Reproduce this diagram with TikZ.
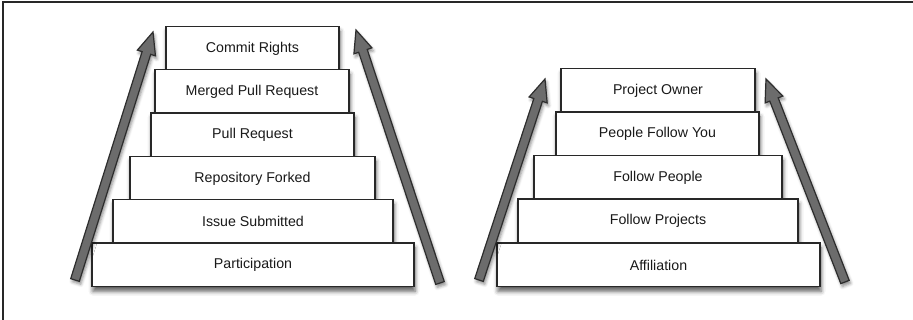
\documentclass[tikz,border=0pt]{standalone}
\usepackage{fontspec}
\setmainfont{Liberation Sans}
\usetikzlibrary{calc,shadows.blur}
\definecolor{boxline}{RGB}{40,40,40}
\definecolor{arrowfill}{RGB}{108,108,108}
\definecolor{arrowline}{RGB}{45,45,45}
\definecolor{framecol}{RGB}{40,40,40}
\definecolor{textcol}{RGB}{25,25,25}
\newcommand{\risearrow}[2]{%
  \coordinate (#1n) at ($(#2)!22pt!(#1)$);
  \path[arrowshape]
    ($(#1)!4.5pt!90:(#2)$) -- ($(#1n)!4.5pt!90:(#2)$) -- ($(#1n)!9.5pt!90:(#2)$) -- (#2)
    -- ($(#1n)!9.5pt!-90:(#2)$) -- ($(#1n)!4.5pt!-90:(#2)$) -- ($(#1)!4.5pt!-90:(#2)$) -- cycle;}
\begin{document}
\begin{tikzpicture}[x=1pt,y=-1pt,
  stepbox/.style={draw=boxline, line width=1.5pt, fill=white, inner sep=0pt, text=textcol,
    minimum height=43.5pt, font=\fontsize{14.2}{17}\selectfont,
    blur shadow={shadow xshift=1pt, shadow yshift=-4.5pt, shadow blur radius=4.5pt, shadow opacity=65}},
  arrowshape/.style={fill=arrowfill, draw=arrowline, line width=1.2pt, line join=miter,
    blur shadow={shadow xshift=1.5pt, shadow yshift=-3pt, shadow blur radius=3pt, shadow opacity=45}}]
\useasboundingbox (0,0) rectangle (913,320);
\draw[framecol, line width=1.5pt] (3,321) -- (3,2) -- (914,2);

% left staircase (top first so lower boxes cover shadows)
\node[stepbox, minimum width=173pt] (commit) at (252.5,48.5) {Commit Rights};
\node[stepbox, minimum width=194pt] (merged) at (252,91.5) {Merged Pull Request};
\node[stepbox, minimum width=203pt] (pull) at (252.5,135) {Pull Request};
\node[stepbox, minimum width=245pt] (repo) at (252.5,178.5) {Repository Forked};
\node[stepbox, minimum width=280pt] (issue) at (253,221.5) {Issue Submitted};
\node[stepbox, minimum width=322pt] (particip) at (253,265) {Participation};

% right staircase
\node[stepbox, minimum width=194pt] (owner) at (658,90.5) {Project Owner};
\node[stepbox, minimum width=203pt] (pfy) at (657.5,134) {People Follow You};
\node[stepbox, minimum width=248pt] (fpeople) at (658,177.5) {Follow People};
\node[stepbox, minimum width=280pt] (fproj) at (658,221) {Follow Projects};
\node[stepbox, minimum width=323pt] (affil) at (658.5,265) {Affiliation};

% arrows
\coordinate (la1) at (75,280);  \coordinate (lb1) at (153,32);
\coordinate (la2) at (440,283); \coordinate (lb2) at (356,30);
\coordinate (ra1) at (479,280); \coordinate (rb1) at (545,79);
\coordinate (ra2) at (845,282); \coordinate (rb2) at (766,79);
\risearrow{la1}{lb1}
\risearrow{la2}{lb2}
\risearrow{ra1}{rb1}
\risearrow{ra2}{rb2}
\end{tikzpicture}
\end{document}
